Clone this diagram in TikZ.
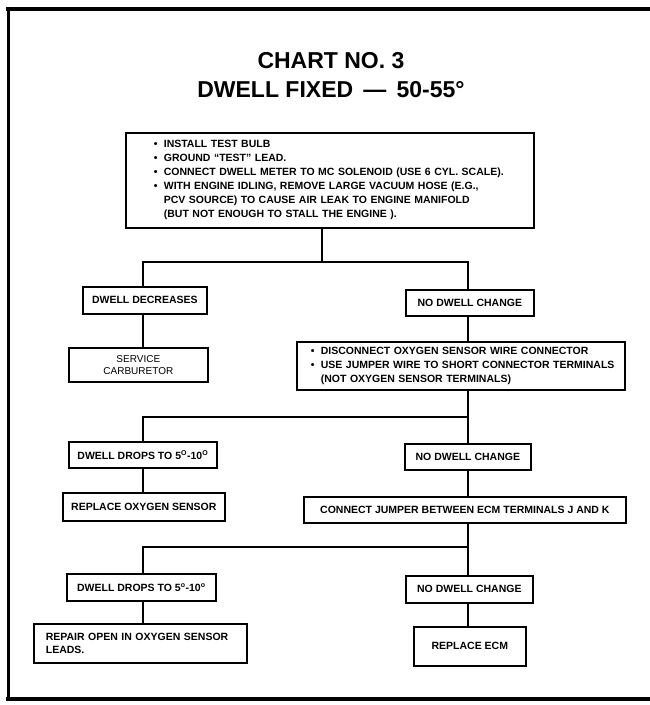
\documentclass[tikz,border=0pt]{standalone}
\usepackage{fontspec}
\setmainfont{Liberation Sans}
\newcommand{\blt}{\makebox[10pt][l]{\textbullet}}
\newcommand{\degsup}[1]{\textsuperscript{\fontsize{7}{7}\selectfont #1}}
\begin{document}
\begin{tikzpicture}[x=1pt,y=-1pt,
  box/.style={draw, line width=1.7pt, inner sep=0pt, anchor=north west,
    font=\fontsize{10.5}{14}\selectfont\bfseries, align=center},
  wire/.style={line width=1.3pt},
  frame/.style={line cap=rect}]
\useasboundingbox (0,0) rectangle (650,705);

% outer frame (open on the right)
\draw[frame, line width=4.5pt] (650,9) -- (8,9);
\draw[frame, line width=3pt] (8,9) -- (8,699);
\draw[frame, line width=4pt] (8,699) -- (650,699);

% heading
\node[font=\fontsize{23}{29}\selectfont\bfseries, align=center] (title) at (331,75)
  {CHART NO. 3\\DWELL FIXED \,—\, 50-55°};

% boxes
\node[box, minimum width=408pt, minimum height=95pt, text width=408pt, align=left] (top) at (125,132)
  {\hspace*{28pt}\blt INSTALL TEST BULB\\
   \hspace*{28pt}\blt GROUND “TEST” LEAD.\\
   \hspace*{28pt}\blt CONNECT DWELL METER TO MC SOLENOID (USE 6 CYL. SCALE).\\
   \hspace*{28pt}\blt WITH ENGINE IDLING, REMOVE LARGE VACUUM HOSE (E.G.,\\
   \hspace*{38pt}PCV SOURCE) TO CAUSE AIR LEAK TO ENGINE MANIFOLD\\
   \hspace*{38pt}(BUT NOT ENOUGH TO STALL THE ENGINE ).};

\node[box, minimum width=124pt, minimum height=27pt] (dd1) at (82,286) {DWELL DECREASES};
\node[box, minimum width=128pt, minimum height=26pt] (ndc1) at (405,289) {NO DWELL CHANGE};
\node[box, minimum width=139pt, minimum height=34pt,
      font=\fontsize{10}{12}\selectfont] (sc) at (68,347) {SERVICE\\CARBURETOR};
\node[box, minimum width=328pt, minimum height=48pt, text width=328pt, align=left] (disc) at (296,341)
  {\hspace*{14pt}\blt DISCONNECT OXYGEN SENSOR WIRE CONNECTOR\\
   \hspace*{14pt}\blt USE JUMPER WIRE TO SHORT CONNECTOR TERMINALS\\
   \hspace*{24pt}(NOT OXYGEN SENSOR TERMINALS)};

\node[box, minimum width=148pt, minimum height=26pt] (dd2) at (68,441)
  {DWELL DROPS TO 5\degsup{O}-10\degsup{O}};
\node[box, minimum width=126pt, minimum height=26pt] (ndc2) at (404,443) {NO DWELL CHANGE};
\node[box, minimum width=162pt, minimum height=28pt] (ros) at (62,492) {REPLACE OXYGEN SENSOR};
\node[box, minimum width=322pt, minimum height=26pt] (cj) at (303,496)
  {CONNECT JUMPER BETWEEN ECM TERMINALS J AND K};

\node[box, minimum width=149pt, minimum height=27pt] (dd3) at (66,573)
  {DWELL DROPS TO 5\degsup{o}-10\degsup{o}};
\node[box, minimum width=127pt, minimum height=27pt] (ndc3) at (405,575) {NO DWELL CHANGE};
\node[box, minimum width=213pt, minimum height=39pt, text width=213pt, align=left,
      font=\fontsize{10.5}{13}\selectfont\bfseries] (rep) at (33,623)
  {\hspace*{12pt}REPAIR OPEN IN OXYGEN SENSOR\\\hspace*{12pt}LEADS.};
\node[box, minimum width=112pt, minimum height=39pt] (ecm) at (413,626) {REPLACE ECM};

% branch columns
\coordinate (L) at (143,0);
\coordinate (R) at (468,0);
\coordinate (C) at (322,0);

% connectors
\draw[wire] (top.south -| C) -- (C |- 0,262) coordinate (j1);
\draw[wire] (dd1.north -| L) |- (j1) -| (ndc1.north -| R);
\draw[wire] (dd1.south -| L) -- (sc.north -| L);
\draw[wire] (ndc1.south -| R) -- (disc.north -| R);

\draw[wire] (disc.south -| R) -- (ndc2.north -| R);
\draw[wire] (dd2.north -| L) |- (R |- 0,417);
\draw[wire] (dd2.south -| L) -- (ros.north -| L);
\draw[wire] (ndc2.south -| R) -- (cj.north -| R);

\draw[wire] (cj.south -| R) -- (ndc3.north -| R);
\draw[wire] (dd3.north -| L) |- (R |- 0,547);
\draw[wire] (dd3.south -| L) -- (rep.north -| L);
\draw[wire] (ndc3.south -| R) -- (ecm.north -| R);
\end{tikzpicture}
\end{document}
